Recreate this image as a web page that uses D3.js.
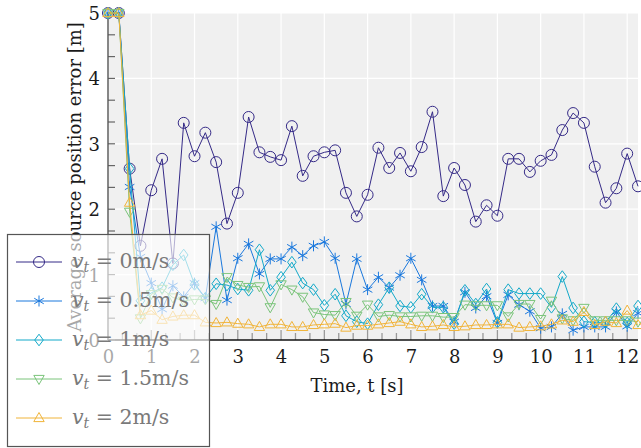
<!DOCTYPE html>
<html><head><meta charset="utf-8">
<script src="https://cdn.jsdelivr.net/npm/d3@7"></script>
<style>body{margin:0;background:#fff}svg{display:block}svg text{font-family:"DejaVu Serif",serif !important}</style>
</head><body><svg id="c" width="641" height="448"></svg>
<script>
const time = [0,0.25,0.5,0.75,1,1.25,1.5,1.75,2,2.25,2.5,2.75,3,3.25,3.5,3.75,4,4.25,4.5,4.75,5,5.25,5.5,5.75,6,6.25,6.5,6.75,7,7.25,7.5,7.75,8,8.25,8.5,8.75,9,9.25,9.5,9.75,10,10.25,10.5,10.75,11,11.25,11.5,11.75,12,12.25];
const v0 = [5,5,2.62,1.44,2.29,2.77,1.17,3.32,2.81,3.17,2.72,1.78,2.25,3.41,2.87,2.8,2.75,3.27,2.51,2.81,2.87,2.9,2.25,1.89,2.22,2.94,2.63,2.86,2.58,2.95,3.49,2.2,2.63,2.37,1.81,2.06,1.9,2.77,2.77,2.57,2.74,2.83,3.21,3.47,3.32,2.65,2.1,2.32,2.85,2.35];
const v05 = [5,5,2.34,1.27,0.87,0.47,0.83,0.66,0.87,0.64,1.73,0.61,1.25,1.47,1.01,1.24,1.24,1.42,1.29,1.44,1.5,1.25,0.55,1.24,0.77,0.96,0.8,0.99,1.25,0.92,0.52,0.52,0.28,0.73,0.49,0.67,0.26,0.69,0.54,0.44,0.18,0.2,0.4,0.15,0.2,0.2,0.2,0.43,0.21,0.41];
const v1 = [5,5,2.62,0.6,0.72,0.8,1.15,1.3,0.85,0.64,0.86,0.84,0.78,0.76,1.38,0.76,0.96,1.19,0.87,0.77,0.53,0.7,0.37,0.28,0.25,0.54,0.8,0.52,0.5,0.7,0.5,0.5,0.25,0.76,0.55,0.78,0.27,0.77,0.71,0.71,0.71,0.5,0.97,0.49,0.28,0.27,0.27,0.48,0.26,0.52];
const v15 = [5,5,1.96,0.33,0.7,0.78,0.65,0.6,0.62,0.62,0.55,0.96,0.84,0.81,0.82,0.5,0.85,0.77,0.66,0.42,0.39,0.38,0.58,0.37,0.54,0.36,0.38,0.36,0.36,0.37,0.37,0.35,0.35,0.54,0.53,0.53,0.53,0.36,0.55,0.55,0.32,0.6,0.33,0.3,0.49,0.3,0.3,0.3,0.3,0.28];
const v2 = [5,5,2.1,0.38,0.45,0.31,0.36,0.38,0.38,0.27,0.26,0.27,0.25,0.24,0.2,0.24,0.24,0.2,0.2,0.23,0.24,0.25,0.19,0.22,0.22,0.24,0.26,0.28,0.24,0.2,0.21,0.23,0.2,0.21,0.23,0.23,0.24,0.24,0.19,0.2,0.21,0.24,0.3,0.28,0.43,0.23,0.28,0.26,0.45,0.23];
const seriesNames = ["0m/s","0.5m/s","1m/s","1.5m/s","2m/s"];
const seriesColors = ["#352a87","#1a78dd","#13a9c9","#7ac47a","#f0b43a"];
const seriesMarkers = ["circle","asterisk","diamond","tridown","triup"];
const xTicks = [0,1,2,3,4,5,6,7,8,9,10,11,12];
const yTicks = [0,1,2,3,4,5];
const xLabel = "Time, t [s]";
const yLabel = "Average source position error [m]";

const allSeries = [v0,v05,v1,v15,v2];
const svg = d3.select("#c");
const x = d3.scaleLinear().domain([0,12.25]).range([108,638]);
const y = d3.scaleLinear().domain([0,5]).range([340,13]);

svg.append("rect").attr("x",x(0)).attr("y",y(5)).attr("width",x(12.25)-x(0)).attr("height",y(0)-y(5)).attr("fill","#f0f0f0");
svg.append("g").selectAll("line").data(xTicks).join("line")
  .attr("x1",d=>x(d)).attr("x2",d=>x(d)).attr("y1",y(0)).attr("y2",y(5)).attr("stroke","#fff").attr("stroke-width",1.2);
svg.append("g").selectAll("line").data(yTicks).join("line")
  .attr("y1",d=>y(d)).attr("y2",d=>y(d)).attr("x1",x(0)).attr("x2",x(12.25)).attr("stroke","#fff").attr("stroke-width",1.2);

const xMinor = d3.range(0,37).map(k=>k/3).filter(v=>v<=12.25 && Math.abs(v-Math.round(v))>1e-6);
const yMinor = d3.range(0,16).map(k=>k/3).filter(v=>Math.abs(v-Math.round(v))>1e-6);

const gx = svg.append("g").attr("transform",`translate(0,${y(0)})`)
  .call(d3.axisBottom(x).tickValues(xTicks).tickSize(0).tickPadding(0).tickFormat(d3.format("d")));
gx.attr("font-size",18);
gx.select(".domain").remove();
gx.selectAll("text").attr("fill","#1a1a1a").attr("dy",0).attr("y",23);
svg.append("g").selectAll("line").data(xTicks).join("line")
  .attr("x1",d=>x(d)).attr("x2",d=>x(d)).attr("y1",y(0)).attr("y2",y(0)-10).attr("stroke","#999").attr("stroke-width",1.3);
svg.append("g").selectAll("line").data(xMinor).join("line")
  .attr("x1",d=>x(d)).attr("x2",d=>x(d)).attr("y1",y(0)).attr("y2",y(0)-7).attr("stroke","#999").attr("stroke-width",1.3);
svg.append("line").attr("x1",x(0)).attr("x2",x(12.25)).attr("y1",y(0)).attr("y2",y(0)).attr("stroke","#111").attr("stroke-width",1.4);

const gy = svg.append("g").attr("transform",`translate(${x(0)},0)`)
  .call(d3.axisLeft(y).tickValues(yTicks).tickSize(0).tickPadding(8).tickFormat(d3.format("d")));
gy.attr("font-size",18);
gy.select(".domain").remove();
gy.selectAll("text").attr("fill","#1a1a1a").attr("dy","0.36em");
svg.append("g").selectAll("line").data(yTicks.concat(yMinor)).join("line")
  .attr("y1",d=>y(d)).attr("y2",d=>y(d)).attr("x1",x(0)).attr("x2",x(0)+7).attr("stroke","#666").attr("stroke-width",1.2);
svg.append("line").attr("x1",x(0)).attr("x2",x(0)).attr("y1",y(0)).attr("y2",y(5)).attr("stroke","#555").attr("stroke-width",1.4);

svg.append("text").attr("x",357).attr("y",392).attr("text-anchor","middle").attr("font-size",18).attr("fill","#1a1a1a").text(xLabel);
svg.append("text").attr("transform","translate(81,177) rotate(-90)").attr("text-anchor","middle").attr("font-size",18).attr("fill","#1a1a1a").text(yLabel);

function markerPath(type){
  const r=5.5;
  if(type==="circle") return d3.symbol(d3.symbolCircle, Math.PI*r*r)();
  if(type==="asterisk"){
    let p="";
    for(const a of [90,30,150]){const rad=a*Math.PI/180;const dx=r*Math.cos(rad),dy=r*Math.sin(rad);p+=`M${-dx},${-dy}L${dx},${dy}`;}
    return p;
  }
  if(type==="diamond") return "M0,-5.8L4.3,0L0,5.8L-4.3,0Z";
  if(type==="triup") return "M0,-5.5L5.2,3.6L-5.2,3.6Z";
  if(type==="tridown") return "M0,5.5L5.2,-3.6L-5.2,-3.6Z";
}

const line = d3.line().x(d=>x(d[0])).y(d=>y(d[1]));
allSeries.forEach((vals,si)=>{
  const pts = vals.map((v,i)=>[time[i],v]);
  const g = svg.append("g");
  g.append("path").attr("d",line(pts)).attr("fill","none").attr("stroke",seriesColors[si]).attr("stroke-width",1);
  g.selectAll("path.m").data(pts).join("path").attr("class","m")
    .attr("transform",d=>`translate(${x(d[0])},${y(d[1])})`).attr("d",markerPath(seriesMarkers[si]))
    .attr("fill","none").attr("stroke",seriesColors[si]).attr("stroke-width",1);
});

const lg = svg.append("g");
lg.append("rect").attr("x",7.5).attr("y",234.5).attr("width",202).attr("height",212).attr("fill","#fff").attr("fill-opacity",0.62).attr("stroke","#555").attr("stroke-width",1.2);
seriesNames.forEach((nm,i)=>{
  const cy = 262 + i*39;
  lg.append("line").attr("x1",16).attr("x2",62).attr("y1",cy).attr("y2",cy).attr("stroke",seriesColors[i]).attr("stroke-width",1);
  lg.append("path").attr("transform",`translate(39,${cy})`).attr("d",markerPath(seriesMarkers[i])).attr("fill","none").attr("stroke",seriesColors[i]).attr("stroke-width",1);
  const t = lg.append("text").attr("x",72).attr("y",cy+6).attr("font-size",20.5).attr("fill","#7a7a7a");
  t.append("tspan").attr("font-style","italic").text("v");
  t.append("tspan").attr("font-style","italic").attr("font-size",14).attr("dy",4).text("t");
  t.append("tspan").attr("dy",-4).text(" = "+nm);
});
</script></body></html>
